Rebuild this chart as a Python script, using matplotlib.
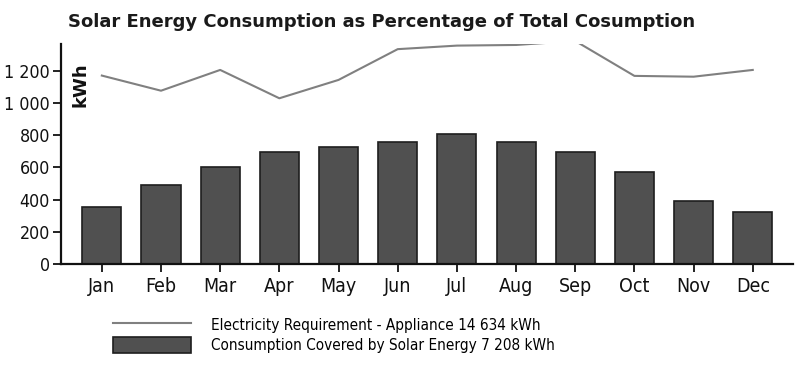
import matplotlib
matplotlib.use("Agg")
import matplotlib.pyplot as plt
from matplotlib.patches import Patch
from matplotlib.lines import Line2D
from matplotlib.ticker import FuncFormatter

months = ["Jan", "Feb", "Mar", "Apr", "May", "Jun", "Jul", "Aug", "Sep", "Oct", "Nov", "Dec"]
requirement = [1170, 1076, 1205, 1029, 1143, 1334, 1356, 1360, 1385, 1168, 1163, 1205]
solar = [356, 491, 604, 694, 729, 760, 805, 760, 698, 570, 391, 325]
yticks = [0, 200, 400, 600, 800, 1000, 1200]

title = "Solar Energy Consumption as Percentage of Total Cosumption"
label_req = "Electricity Requirement - Appliance 14 634 kWh"
label_solar = "Consumption Covered by Solar Energy 7 208 kWh"

plt.rcParams['font.family'] = ['DejaVu Sans']

fig = plt.figure(figsize=(7.98, 3.67), dpi=100)
ax = fig.add_axes([61/798, 1-264/367, (793-61)/798, (264-44)/367])

x = list(range(len(months)))
ax.bar(x, solar, width=0.66, color="#505050", edgecolor="#1e1e1e", linewidth=1.2, zorder=2)
ax.plot(x, requirement, color="#808080", linewidth=1.5, zorder=3)

ax.set_xlim(-0.69, 11.68)
ax.set_ylim(0, 1366)
ax.set_xticks(x)
ax.set_xticklabels(months)
ax.set_yticks(yticks)
ax.yaxis.set_major_formatter(FuncFormatter(lambda v, p: f"{int(v):,}".replace(",", " ")))

for s in ["top", "right"]:
    ax.spines[s].set_visible(False)
for s in ["left", "bottom"]:
    ax.spines[s].set_linewidth(1.6)
    ax.spines[s].set_color("#111111")

ax.tick_params(axis="y", direction="out", length=6, width=1.3, labelsize=12.8, pad=2, colors="#111111")
ax.tick_params(axis="x", direction="out", length=6, width=1.3, labelsize=14, pad=3, colors="#111111")
for t in ax.get_xticklabels() + ax.get_yticklabels():
    t.set_fontstretch("condensed")

ax.text(0.026, 0.915, "kWh", transform=ax.transAxes, rotation=90, fontsize=13,
        fontweight="bold", ha="center", va="top", color="#111111")

fig.text(68/798, 1-22/367, title, fontsize=13, fontweight="bold", ha="left", va="center", color="#1a1a1a")

handles = [Line2D([0], [0], color="#808080", linewidth=1.5),
           Patch(facecolor="#505050", edgecolor="#1e1e1e", linewidth=1.2)]
leg = fig.legend(handles, [label_req, label_solar], loc="upper left",
           bbox_to_anchor=(113/798, 1-317/367), frameon=False,
           prop={"size": 11.0, "stretch": "condensed"},
           handlelength=5.1, handleheight=1.15, handletextpad=1.3, labelspacing=0.3,
           borderpad=0, borderaxespad=0)

fig.savefig("out.png", dpi=100)
